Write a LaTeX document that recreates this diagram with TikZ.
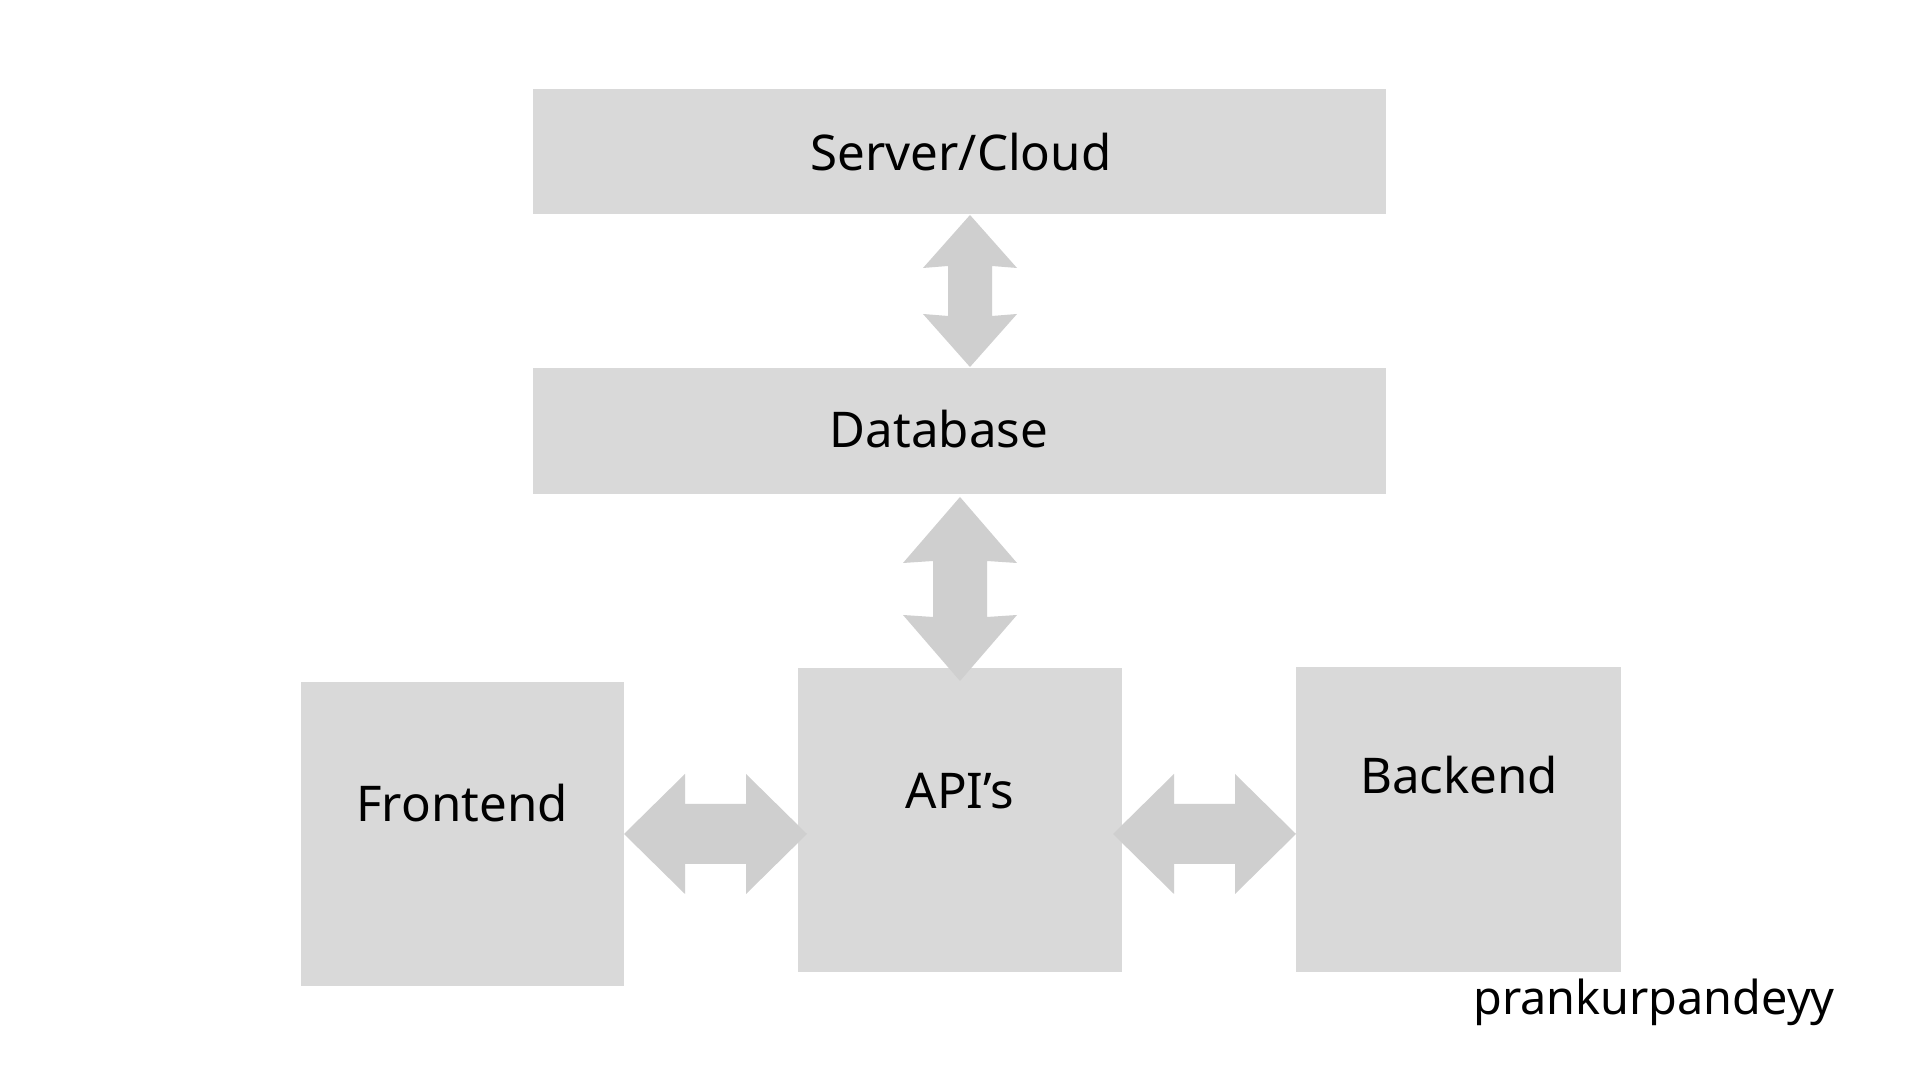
\documentclass[tikz,border=0pt]{standalone}
\usepackage{fontspec}
\setmainfont{Noto Sans}
\definecolor{boxgray}{HTML}{D9D9D9}
\definecolor{arrowgray}{HTML}{CFCFCF}
\tikzset{
  blk/.style={fill=boxgray, draw=none, inner sep=0pt},
  lbl/.style={anchor=base, inner sep=0pt, text=black, font=\fontsize{14}{16}\selectfont},
  dblarr/.style={fill=arrowgray, draw=none},
}
% vertical double arrow: x, ytop, ybottom, headlen, headhalf, shafthalf
\newcommand{\myVarrow}[6]{%
  \fill[dblarr] (#1,#2) -- (#1+#5,#2+#4+2) -- (#1+#6,#2+#4) -- (#1+#6,#3-#4) -- (#1+#5,#3-#4-2)
    -- (#1,#3) -- (#1-#5,#3-#4-2) -- (#1-#6,#3-#4) -- (#1-#6,#2+#4) -- (#1-#5,#2+#4+2) -- cycle;}
% horizontal double arrow: y, xleft, xright, headlen, headhalf, shafthalf
\newcommand{\myHarrow}[6]{%
  \fill[dblarr] (#2,#1) -- (#2+#4,#1-#5) -- (#2+#4,#1-#6) -- (#3-#4,#1-#6) -- (#3-#4,#1-#5)
    -- (#3,#1) -- (#3-#4,#1+#5) -- (#3-#4,#1+#6) -- (#2+#4,#1+#6) -- (#2+#4,#1+#5) -- cycle;}
\begin{document}
\begin{tikzpicture}[x=0.01cm, y=-0.01cm]
  \useasboundingbox (0,0) rectangle (1920,1080);
  \fill[white] (0,0) rectangle (1920,1080);
  % boxes
  \fill[blk] (533,89) rectangle (1386,214);
  \fill[blk] (533,368) rectangle (1386,494);
  \fill[blk] (301,682) rectangle (624,986);
  \fill[blk] (798,668) rectangle (1122,972);
  \fill[blk] (1296,667) rectangle (1621,972);
  % arrows
  \myVarrow{970}{215}{367}{51}{47}{22}
  \myVarrow{960}{497}{681}{64}{57}{27}
  \myHarrow{834}{624}{807}{61}{60}{30}
  \myHarrow{834}{1113}{1296}{61}{60}{30}
  % labels
  \node[lbl] (tsrv) at (961,171) {Server/Cloud};
  \node[lbl] (tdb) at (939,448) {Database};
  \node[lbl] (tfe) at (462,822) {Frontend};
  \node[lbl] (tapi) at (960,809) {API’s};
  \node[lbl] (tbe) at (1459,794) {Backend};
  \node[lbl, font=\fontsize{13.3}{16}\selectfont] (tsig) at (1654,1015) {prankurpandeyy};
\end{tikzpicture}
\end{document}
